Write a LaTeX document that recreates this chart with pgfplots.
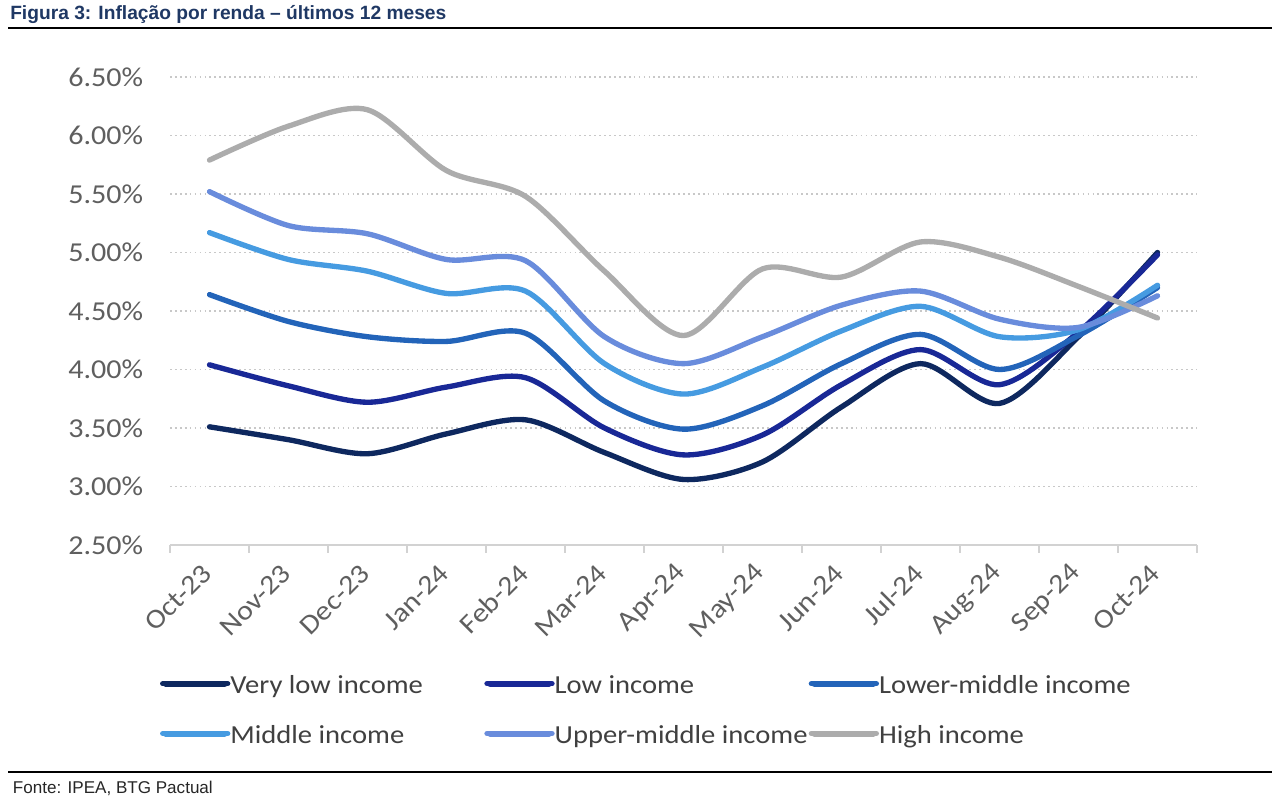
\documentclass[border=0pt]{standalone}
\usepackage{fontspec}
\setmainfont{Carlito}[FakeStretch=1.1]
\newfontfamily\arialfont{Liberation Sans}
\usepackage{pgfplots}
\usepackage{pgfplotstable}
\pgfplotsset{compat=1.18}

\definecolor{titlec}{RGB}{31,56,100}
\definecolor{vlowc}{RGB}{14,40,95}
\definecolor{lowc}{RGB}{25,40,150}
\definecolor{lmidc}{RGB}{35,100,185}
\definecolor{midc}{RGB}{70,155,225}
\definecolor{umidc}{RGB}{105,140,220}
\definecolor{highc}{RGB}{172,172,172}
\definecolor{tickgray}{RGB}{95,95,95}
\definecolor{leggray}{RGB}{64,64,64}
\definecolor{axgray}{RGB}{210,210,210}
\definecolor{gridc}{RGB}{200,200,200}

\pgfplotstableread{
x vlow low lmid mid umid high
0 3.51 4.04 4.64 5.17 5.52 5.79
1 3.40 3.86 4.41 4.94 5.23 6.08
2 3.28 3.72 4.28 4.84 5.16 6.22
3 3.45 3.85 4.24 4.65 4.94 5.70
4 3.57 3.93 4.31 4.67 4.93 5.48
5 3.29 3.50 3.73 4.05 4.28 4.84
6 3.06 3.27 3.49 3.79 4.05 4.29
7 3.21 3.44 3.69 4.02 4.28 4.86
8 3.68 3.87 4.05 4.33 4.55 4.79
9 4.05 4.17 4.30 4.54 4.67 5.09
10 3.71 3.87 4.00 4.28 4.43 4.96
11 4.28 4.32 4.29 4.34 4.36 4.71
12 5.00 4.98 4.70 4.72 4.63 4.44
}\data

\newcommand{\legtext}[1]{\makebox[190.5pt][l]{\strut #1}}

\begin{document}
\begin{tikzpicture}
\path[use as bounding box] (0,0) rectangle (963pt,603.75pt);
% title
\node[anchor=base west, inner sep=0pt, text=titlec, font=\arialfont\bfseries\fontsize{14.4}{17}\selectfont] at (7.5pt,588.75pt) {Figura 3: Inflação por renda – últimos 12 meses};
\draw[black, line width=1.8pt] (6pt,582.75pt) -- (954pt,582.75pt);
% footer
\draw[black, line width=1.8pt] (6pt,24.75pt) -- (954pt,24.75pt);
\node[anchor=base west, inner sep=0pt, text=black!85, font=\arialfont\fontsize{12.8}{15}\selectfont] at (9.5pt,8.5pt) {Fonte: IPEA, BTG Pactual};

\begin{axis}[
  at={(127.5pt,195pt)}, anchor=south west,
  scale only axis, width=770.25pt, height=351pt,
  xmin=-0.5, xmax=12.5, ymin=2.5, ymax=6.5,
  axis x line*=bottom, axis y line*=left,
  x axis line style={draw=axgray, line width=1.5pt, -},
  y axis line style={draw=none},
  xtick={0,...,12},
  xticklabels={Oct-23,Nov-23,Dec-23,Jan-24,Feb-24,Mar-24,Apr-24,May-24,Jun-24,Jul-24,Aug-24,Sep-24,Oct-24},
  minor xtick={-0.5,0.5,...,12.5},
  major tick length=0pt, minor tick length=6pt, tick align=outside,
  minor x tick style={draw=axgray, line width=1.5pt},
  ytick={2.5,3,...,6.5},
  ytick style={draw=none},
  ymajorgrids,
  grid style={draw=gridc, line width=1.3pt, dash pattern=on 1.3pt off 2.4pt},
  /pgf/number format/assume math mode=true,
  yticklabel={\pgfmathprintnumber[fixed,fixed zerofill,precision=2]{\tick}\%},
  yticklabel style={anchor=east, inner sep=0pt, xshift=-20pt, text=tickgray, font=\fontsize{20.5}{24}\selectfont},
  xticklabel style={xshift=-1.5pt, yshift=-18pt, rotate=45, anchor=east, inner sep=0pt, text=tickgray, font=\fontsize{20.5}{24}\selectfont},
  legend columns=3,
  legend cell align=left,
  legend image code/.code={\draw[#1, line width=4.5pt, line cap=round] (2.25pt,0pt) -- (46.5pt,0pt); \path (0pt,0pt) -- (48.75pt,0pt);},
  legend style={at={(-0.0097,-0.2714)}, anchor=north west, draw=none, fill=none, inner sep=0pt, outer sep=0pt,
    font=\fontsize{19.5}{23}\selectfont, text=leggray, row sep=19.75pt,
    nodes={inner sep=0pt},
    /tikz/every odd column/.append style={column sep=0pt}},
  every axis plot/.append style={line width=4pt, smooth, line cap=round, line join=round},
]
\addplot[vlowc] table[x=x,y=vlow]{\data};
\addlegendentry{\legtext{Very low income}}
\addplot[lowc] table[x=x,y=low]{\data};
\addlegendentry{\legtext{Low income}}
\addplot[lmidc] table[x=x,y=lmid]{\data};
\addlegendentry{\legtext{Lower-middle income}}
\addplot[midc] table[x=x,y=mid]{\data};
\addlegendentry{\legtext{Middle income}}
\addplot[umidc] table[x=x,y=umid]{\data};
\addlegendentry{\legtext{Upper-middle income}}
\addplot[highc] table[x=x,y=high]{\data};
\addlegendentry{\legtext{High income}}
\end{axis}
\end{tikzpicture}
\end{document}
